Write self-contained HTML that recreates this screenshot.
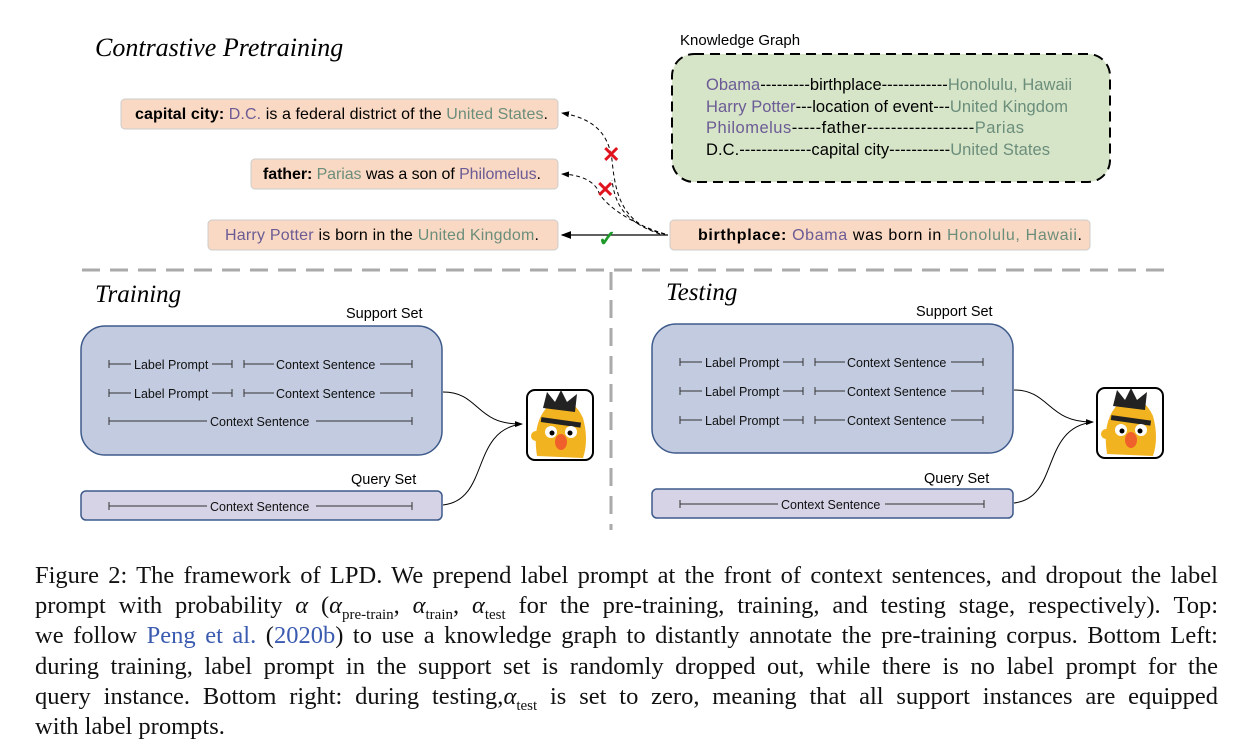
<!DOCTYPE html>
<html><head><meta charset="utf-8"><style>
body{margin:0;width:1252px;height:756px;background:#fff;overflow:hidden;position:relative;font-family:"Liberation Sans",sans-serif}
svg{position:absolute;left:0;top:0}
.cap{position:absolute;left:35px;top:561px;width:1183px;font-family:"Liberation Serif",serif;font-size:24.5px;line-height:30.2px;color:#111}
.cap div{text-align:justify;text-align-last:justify;white-space:nowrap;height:30.2px}
.cap div.last{text-align-last:left}
.cap a{color:#3b5bb0;text-decoration:none}
sub{font-size:15px;line-height:0}
</style></head><body>
<svg width="1252" height="560" viewBox="0 0 1252 560" font-family="Liberation Sans, sans-serif">
<defs>
<marker id="ah" markerWidth="8" markerHeight="8" refX="7" refY="4" orient="auto"><path d="M0,1 L8,4 L0,7 z" fill="#000"/></marker>
<g id="bert">
<rect x="0" y="0" width="66" height="70" rx="8" fill="#fff" stroke="#000" stroke-width="2"/>
<path d="M10,66 Q4,28 26,12 Q46,6 56,28 Q62,50 56,68 Z" fill="#f2b320"/>
<path d="M16,18 L20,2 L28,12 L34,0 L40,12 L50,4 L48,22 Z" fill="#222"/>
<rect x="14" y="30" width="40" height="5" fill="#222" transform="rotate(8 35 32)"/>
<circle cx="24" cy="42" r="6" fill="#fff"/><circle cx="44" cy="42" r="6" fill="#fff"/>
<circle cx="25" cy="43" r="2.5" fill="#000"/><circle cx="43" cy="43" r="2.5" fill="#000"/>
<ellipse cx="34" cy="52" rx="6" ry="8" fill="#f0602a"/>
<circle cx="9" cy="46" r="5" fill="#f2b320"/>
</g>
</defs>
<text x="95" y="56" font-family="Liberation Serif, serif" font-style="italic" font-size="26">Contrastive Pretraining</text>
<text x="680" y="45" font-size="15">Knowledge Graph</text>
<rect x="672" y="54" width="438" height="128" rx="22" fill="#d6e4c8" stroke="#000" stroke-width="2" stroke-dasharray="10,6"/>
<g font-size="16.5">
<text x="706" y="90" textLength="366"><tspan fill="#6b5b95">Obama</tspan>---------birthplace------------<tspan fill="#6b8e7b">Honolulu, Hawaii</tspan></text>
<text x="706" y="112" textLength="362"><tspan fill="#6b5b95">Harry Potter</tspan>---location of event---<tspan fill="#6b8e7b">United Kingdom</tspan></text>
<text x="706" y="133" textLength="318"><tspan fill="#6b5b95">Philomelus</tspan>-----father------------------<tspan fill="#6b8e7b">Parias</tspan></text>
<text x="706" y="155" textLength="344">D.C.-------------capital city-----------<tspan fill="#6b8e7b">United States</tspan></text>
</g>
<g font-size="16">
<rect x="121" y="99" width="437" height="30" rx="4" fill="#f9d9c3" stroke="#ccc"/>
<text x="135" y="119" textLength="413"><tspan font-weight="bold">capital city:</tspan> <tspan fill="#6b5b95">D.C.</tspan> is a federal district of the <tspan fill="#6b8e7b">United States</tspan>.</text>
<rect x="251" y="159" width="307" height="30" rx="4" fill="#f9d9c3" stroke="#ccc"/>
<text x="263" y="179" textLength="278"><tspan font-weight="bold">father:</tspan> <tspan fill="#6b8e7b">Parias</tspan> was a son of <tspan fill="#6b5b95">Philomelus</tspan>.</text>
<rect x="208" y="220" width="350" height="30" rx="4" fill="#f9d9c3" stroke="#ccc"/>
<text x="225" y="240" textLength="314"><tspan fill="#6b5b95">Harry Potter</tspan> is born in the <tspan fill="#6b8e7b">United Kingdom</tspan>.</text>
<rect x="670" y="220" width="420" height="30" rx="4" fill="#f9d9c3" stroke="#ccc"/>
<text x="698" y="240" textLength="384"><tspan font-weight="bold">birthplace:</tspan> <tspan fill="#6b5b95">Obama</tspan> was born in <tspan fill="#6b8e7b">Honolulu, Hawaii</tspan>.</text>
</g>
<line x1="668" y1="235" x2="562" y2="235" stroke="#000" stroke-width="1.3" marker-end="url(#ah)"/>
<path d="M665,234 C620,225 615,190 612,160 C608,130 590,118 562,113" fill="none" stroke="#000" stroke-dasharray="4,3" marker-end="url(#ah)"/>
<path d="M665,234 C625,222 600,200 598,190 C592,180 580,175 562,174" fill="none" stroke="#000" stroke-dasharray="4,3" marker-end="url(#ah)"/>
<path d="M660,234 C625,222 615,205 612,180" fill="none" stroke="#000" stroke-dasharray="4,3"/>
<text x="602" y="162" fill="#e0141e" font-size="22" font-weight="bold">✕</text>
<text x="596" y="197" fill="#e0141e" font-size="22" font-weight="bold">✕</text>
<text x="598" y="246" fill="#1d9a2a" font-size="22" font-weight="bold">✓</text>
<line x1="82" y1="270" x2="1165" y2="270" stroke="#aaa" stroke-width="3" stroke-dasharray="18,10"/>
<line x1="611" y1="272" x2="611" y2="530" stroke="#aaa" stroke-width="3" stroke-dasharray="18,10"/>
<text x="95" y="302" font-family="Liberation Serif, serif" font-style="italic" font-size="25">Training</text>
<text x="666" y="300" font-family="Liberation Serif, serif" font-style="italic" font-size="25">Testing</text>
<g font-size="14.5">
<text x="346" y="318">Support Set</text>
<text x="351" y="484">Query Set</text>
<text x="916" y="316">Support Set</text>
<text x="924" y="483">Query Set</text>
</g>
<rect x="81" y="326" width="361" height="129" rx="24" fill="#c2cbe0" stroke="#3d5a8a" stroke-width="1.5"/>
<rect x="81" y="491" width="361" height="29" rx="5" fill="#d6d3e6" stroke="#3d5a8a" stroke-width="1.5"/>
<rect x="652" y="324" width="361" height="129" rx="24" fill="#c2cbe0" stroke="#3d5a8a" stroke-width="1.5"/>
<rect x="652" y="489" width="361" height="29" rx="5" fill="#d6d3e6" stroke="#3d5a8a" stroke-width="1.5"/>
<g font-size="12.5" stroke="#333" stroke-width="1">
<g id="lp">
<path d="M109,360v8M109,364h22M212,364h20M232,360v8M244,360v8M244,364h30M380,364h32M412,360v8" fill="none"/>
</g>
<use href="#lp" y="29"/>
<path d="M109,417v8M109,421h98M316,421h96M412,417v8" fill="none"/>
<path d="M109,502v8M109,506h98M316,506h96M412,502v8" fill="none"/>
<use href="#lp" x="571" y="-2"/><use href="#lp" x="571" y="27"/><use href="#lp" x="571" y="56"/>
<path d="M680,500v8M680,504h98M885,504h99M984,500v8" fill="none"/>
</g>
<g font-size="12.5" fill="#111">
<text x="134" y="369">Label Prompt</text><text x="276" y="369">Context Sentence</text>
<text x="134" y="398">Label Prompt</text><text x="276" y="398">Context Sentence</text>
<text x="210" y="426">Context Sentence</text>
<text x="210" y="511">Context Sentence</text>
<text x="705" y="367">Label Prompt</text><text x="847" y="367">Context Sentence</text>
<text x="705" y="396">Label Prompt</text><text x="847" y="396">Context Sentence</text>
<text x="705" y="425">Label Prompt</text><text x="847" y="425">Context Sentence</text>
<text x="781" y="509">Context Sentence</text>
</g>
<path d="M443,392 C480,392 475,425 522,424" fill="none" stroke="#000" marker-end="url(#ah)"/>
<path d="M443,505 C490,500 470,430 522,424" fill="none" stroke="#000"/>
<path d="M1014,390 C1050,390 1048,423 1093,422" fill="none" stroke="#000" marker-end="url(#ah)"/>
<path d="M1014,503 C1060,498 1040,428 1093,422" fill="none" stroke="#000"/>
<use href="#bert" x="527" y="390"/>
<use href="#bert" x="1097" y="388"/>
</svg>
<div class="cap">
<div>Figure 2: The framework of LPD. We prepend label prompt at the front of context sentences, and dropout the label</div>
<div>prompt with probability <i>α</i> (<i>α</i><sub>pre-train</sub>, <i>α</i><sub>train</sub>, <i>α</i><sub>test</sub> for the pre-training, training, and testing stage, respectively). Top:</div>
<div>we follow <a>Peng et al.</a> (<a>2020b</a>) to use a knowledge graph to distantly annotate the pre-training corpus. Bottom Left:</div>
<div>during training, label prompt in the support set is randomly dropped out, while there is no label prompt for the</div>
<div>query instance. Bottom right: during testing,<i>α</i><sub>test</sub> is set to zero, meaning that all support instances are equipped</div>
<div class="last">with label prompts.</div>
</div>
</body></html>
